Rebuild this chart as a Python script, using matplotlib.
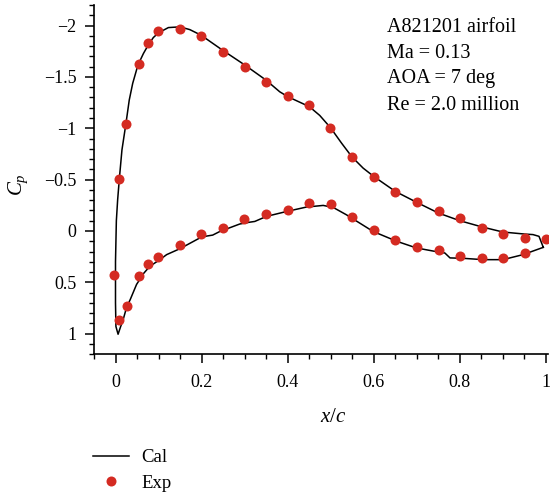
import matplotlib
matplotlib.use("Agg")
import matplotlib.pyplot as plt
from matplotlib.ticker import MultipleLocator
from matplotlib.lines import Line2D

plt.rcParams["font.family"] = ["Liberation Serif", "DejaVu Serif"]
plt.rcParams["mathtext.fontset"] = "custom"
plt.rcParams["mathtext.rm"] = "Liberation Serif"
plt.rcParams["mathtext.it"] = "Liberation Serif:italic"

# Calculated Cp, one closed loop: upper surface TE -> LE -> lower surface -> TE
cal_x = [0.994, 0.984, 0.970, 0.951, 0.900, 0.851, 0.800, 0.750, 0.700, 0.650,
         0.600, 0.575, 0.549, 0.525, 0.499, 0.474, 0.450, 0.400, 0.381, 0.349,
         0.300, 0.248, 0.198, 0.172, 0.149, 0.122, 0.099, 0.087, 0.075, 0.064,
         0.054, 0.050, 0.039, 0.031, 0.023, 0.014, 0.008, 0.004, 0.001, -0.001,
         -0.001, 0.000, 0.005, 0.011, 0.017, 0.025, 0.033, 0.048, 0.065, 0.079,
         0.100, 0.118, 0.149, 0.195, 0.210, 0.225, 0.242, 0.288, 0.310, 0.323,
         0.350, 0.397, 0.443, 0.482, 0.505, 0.536, 0.567, 0.598, 0.653, 0.699,
         0.753, 0.765, 0.777, 0.808, 0.854, 0.900, 0.947, 0.994]
cal_cp = [0.159, 0.052, 0.035, 0.030, 0.010, -0.040, -0.100, -0.175, -0.278, -0.385,
          -0.530, -0.612, -0.721, -0.854, -1.006, -1.125, -1.210, -1.307, -1.355, -1.469,
          -1.615, -1.760, -1.906, -1.960, -1.987, -1.980, -1.929, -1.883, -1.809, -1.728,
          -1.640, -1.598, -1.437, -1.275, -1.038, -0.789, -0.511, -0.304, -0.100, 0.300,
          0.700, 0.930, 1.005, 0.930, 0.860, 0.740, 0.670, 0.520, 0.410, 0.343,
          0.285, 0.230, 0.172, 0.068, 0.050, 0.040, 0.004, -0.068, -0.085, -0.093,
          -0.142, -0.190, -0.233, -0.249, -0.230, -0.158, -0.077, 0.004, 0.100, 0.165,
          0.207, 0.214, 0.262, 0.266, 0.279, 0.279, 0.230, 0.159]

# Experimental Cp
exp_x_upper = [0.008, 0.023, 0.054, 0.074, 0.098, 0.149, 0.198, 0.248, 0.300, 0.349,
               0.400, 0.450, 0.499, 0.549, 0.600, 0.650, 0.700, 0.751, 0.800, 0.851,
               0.900, 0.951, 1.000]
exp_cp_upper = [-0.51, -1.04, -1.63, -1.83, -1.945, -1.965, -1.90, -1.745, -1.595, -1.45,
                -1.317, -1.226, -1.006, -0.72, -0.53, -0.378, -0.278, -0.194, -0.122, -0.025,
                0.026, 0.072, 0.08]
exp_x_lower = [-0.005, 0.007, 0.025, 0.053, 0.074, 0.099, 0.149, 0.198, 0.248, 0.299,
               0.349, 0.400, 0.450, 0.500, 0.550, 0.600, 0.650, 0.700, 0.751, 0.800,
               0.851, 0.900, 0.951]
exp_cp_lower = [0.425, 0.87, 0.73, 0.434, 0.317, 0.25, 0.133, 0.026, -0.029, -0.116,
                -0.161, -0.207, -0.275, -0.265, -0.132, -0.013, 0.087, 0.159, 0.185, 0.243,
                0.262, 0.259, 0.211]

info_lines = ["A821201 airfoil", "Ma = 0.13", "AOA = 7 deg", "Re = 2.0 million"]

red = "#d42b22"

fig = plt.figure(figsize=(5.51, 4.98), dpi=100)
ax = fig.add_axes([0.1706, 0.2886, 0.824, 0.7014])

ax.plot(cal_x, cal_cp, color="black", lw=1.1, zorder=2)
ax.plot(exp_x_upper + exp_x_lower, exp_cp_upper + exp_cp_lower, "o",
        color=red, ms=7.2, mec="none", zorder=3)

ax.set_xlim(-0.051, 1.005)
ax.set_ylim(1.2, -2.2)

ax.xaxis.set_major_locator(MultipleLocator(0.2))
ax.xaxis.set_minor_locator(MultipleLocator(0.05))
ax.yaxis.set_major_locator(MultipleLocator(0.5))
ax.yaxis.set_minor_locator(MultipleLocator(0.1))
ax.set_xticks([0, 0.2, 0.4, 0.6, 0.8, 1.0])
ax.set_xticklabels(["0", "0.2", "0.4", "0.6", "0.8", "1"])
ax.set_yticks([-2, -1.5, -1, -0.5, 0, 0.5, 1])
ax.set_yticklabels(["\u22122", "\u22121.5", "\u22121", "\u22120.5", "0", "0.5", "1"])

ax.spines["top"].set_visible(False)
ax.spines["right"].set_visible(False)
for s in ["left", "bottom"]:
    ax.spines[s].set_linewidth(1.2)
ax.tick_params(which="major", direction="out", length=6.5, width=1.1, labelsize=13, pad=6)
ax.tick_params(axis="x", which="major", pad=7.5)
ax.tick_params(which="minor", direction="out", length=3.3, width=1.0)

fig.text(333 / 551, 1 - 417 / 498, "$x/c$", fontsize=15, ha="center", va="center")
fig.text(18 / 551, 1 - 185 / 498, "$C_p$", fontsize=15, ha="center", va="center", rotation=90)

for i, line in enumerate(info_lines):
    ax.text(387 / 551, 1 - (27 + 26 * i) / 498, line, transform=fig.transFigure,
            fontsize=14.5, ha="left", va="center")

handles = [Line2D([], [], color="black", lw=1.1),
           Line2D([], [], ls="none", marker="o", color=red, ms=7.2, mec="none")]
fig.legend(handles, ["Cal", "Exp"], loc="upper left", bbox_to_anchor=(93 / 551, 1 - 449 / 498),
           frameon=False, fontsize=13.5, borderpad=0, borderaxespad=0,
           handlelength=1.9, handletextpad=0.7, labelspacing=0.45)

fig.savefig("out.png", dpi=100)
